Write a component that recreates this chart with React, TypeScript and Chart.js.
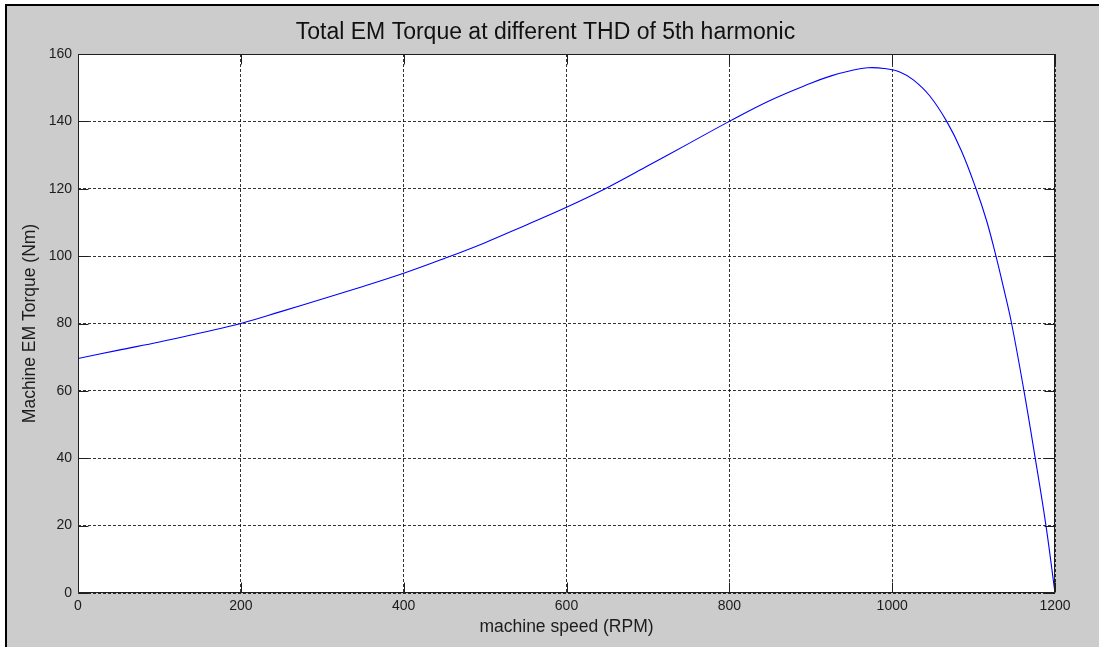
import React, { useEffect, useRef } from "react";
import { Chart, registerables } from "chart.js";

Chart.register(...registerables);

const titleText = "Total EM Torque at different THD of 5th harmonic";
const xAxisTitle = "machine speed (RPM)";
const yAxisTitle = "Machine EM Torque (Nm)";

const speedRpm = [
  0, 50, 100, 150, 200, 250, 300, 350, 400, 450, 500, 550, 600, 650, 700, 750,
  800, 850, 900, 925, 950, 970, 990, 1010, 1026, 1046, 1067, 1085, 1103, 1116,
  1127.5, 1137, 1146.7, 1161.9, 1175.4, 1188.9, 1200,
];
const torqueNm = [
  69.6, 72.1, 74.5, 77.2, 80.0, 83.6, 87.3, 91.0, 94.9, 99.3, 104.0, 109.2,
  114.5, 120.3, 126.8, 133.4, 140.0, 146.2, 151.3, 153.5, 155.1, 155.9, 155.7,
  154.6, 152.3, 147.6, 140.0, 131.3, 120.0, 110.5, 100.0, 90.4, 80.0, 60.0,
  40.5, 20.0, 0,
];
const xTickValues = [0, 200, 400, 600, 800, 1000, 1200];
const yTickValues = [0, 20, 40, 60, 80, 100, 120, 140, 160];

const FONT = '"Liberation Sans", Arial, sans-serif';
const TEXT = "#1c1c1c";

const framePlugin = {
  id: "frame",
  beforeDraw(chart: any) {
    const { ctx, chartArea: a } = chart;
    ctx.save();
    ctx.fillStyle = "#ffffff";
    ctx.fillRect(a.left, a.top, a.right - a.left, a.bottom - a.top);
    ctx.restore();
  },
  afterDraw(chart: any) {
    const { ctx, chartArea: a, scales } = chart;
    const L = Math.round(a.left) + 0.5;
    const R = Math.round(a.right) - 0.5;
    const T = Math.round(a.top) + 0.5;
    const B = Math.round(a.bottom) - 0.5;
    ctx.save();
    ctx.strokeStyle = "#1e1e1e";
    ctx.lineWidth = 1;
    ctx.setLineDash([]);
    ctx.beginPath();
    const tl = 10;
    for (const v of yTickValues) {
      const y = Math.round(scales.y.getPixelForValue(v)) + 0.5;
      ctx.moveTo(L, y);
      ctx.lineTo(L + tl, y);
      ctx.moveTo(R, y);
      ctx.lineTo(R - tl, y);
    }
    for (const v of xTickValues) {
      const x = Math.round(scales.x.getPixelForValue(v)) + 0.5;
      ctx.moveTo(x, B);
      ctx.lineTo(x, B - tl);
      ctx.moveTo(x, T);
      ctx.lineTo(x, T + tl);
    }
    ctx.stroke();
    ctx.beginPath();
    ctx.rect(L, T, R - L, B - T);
    ctx.stroke();

    // figure title
    ctx.fillStyle = "#111111";
    ctx.font = `23px ${FONT}`;
    ctx.textAlign = "center";
    ctx.textBaseline = "alphabetic";
    ctx.fillText(titleText, 545.5, 39.3);
    ctx.restore();
  },
};

export default function App() {
  const ref = useRef<HTMLCanvasElement | null>(null);

  useEffect(() => {
    if (!ref.current) return;
    const points = speedRpm.map((s, i) => ({ x: s, y: torqueNm[i] }));
    const chart = new Chart(ref.current, {
      type: "line",
      data: {
        datasets: [
          {
            data: points,
            borderColor: "#0000ff",
            borderWidth: 1.1,
            pointRadius: 0,
            fill: false,
            tension: 0.4,
          },
        ],
      },
      options: {
        animation: false,
        responsive: false,
        maintainAspectRatio: false,
        layout: { padding: { top: 54, left: 0, right: 44, bottom: 0 } },
        plugins: {
          legend: { display: false },
          tooltip: { enabled: false },
          title: { display: false },
        },
        scales: {
          x: {
            type: "linear",
            min: 0,
            max: 1200,
            afterBuildTicks: (s: any) => {
              s.ticks = xTickValues.map((v) => ({ value: v }));
            },
            afterFit: (s: any) => {
              s.height = 54;
            },
            ticks: {
              color: TEXT,
              font: { family: FONT, size: 14 },
              padding: 4.5,
              maxRotation: 0,
              autoSkip: false,
              callback: (v: any) => String(v),
            },
            grid: {
              color: "rgba(0,0,0,0.8)",
              lineWidth: 1,
              drawTicks: false,
            },
            border: { display: false, dash: [3, 2] },
            title: {
              display: true,
              text: xAxisTitle,
              color: TEXT,
              font: { family: FONT, size: 17.5 },
              padding: { top: 0, bottom: 9.3 },
            },
          },
          y: {
            type: "linear",
            min: 0,
            max: 160,
            afterBuildTicks: (s: any) => {
              s.ticks = yTickValues.map((v) => ({ value: v }));
            },
            afterFit: (s: any) => {
              s.width = 78;
            },
            ticks: {
              color: TEXT,
              font: { family: FONT, size: 14 },
              padding: 6,
              autoSkip: false,
              callback: (v: any) => String(v),
            },
            grid: {
              color: "rgba(0,0,0,0.8)",
              lineWidth: 1,
              drawTicks: false,
            },
            border: { display: false, dash: [3, 2] },
            title: {
              display: true,
              text: yAxisTitle,
              color: TEXT,
              font: { family: FONT, size: 17.5 },
              padding: { top: 19.2, bottom: 0 },
            },
          },
        },
      },
      plugins: [framePlugin],
    } as any);
    return () => chart.destroy();
  }, []);

  return (
    <div
      style={{
        position: "absolute",
        left: 0,
        top: 0,
        width: 1099,
        height: 647,
        background: "#ffffff",
        overflow: "hidden",
      }}
    >
      <div
        style={{
          position: "absolute",
          left: 5,
          top: 4,
          right: 0,
          bottom: 0,
          background: "#cccccc",
          borderTop: "2px solid #000",
          borderLeft: "2px solid #000",
        }}
      />
      <canvas
        ref={ref}
        width={1099}
        height={647}
        style={{ position: "absolute", left: 0, top: 0, display: "block" }}
      />
    </div>
  );
}
